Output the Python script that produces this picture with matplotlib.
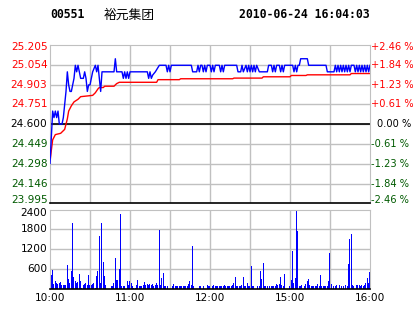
import numpy as np
import matplotlib.pyplot as plt
from matplotlib.transforms import offset_copy

# header
code = "00551"
name = "裕元集团"
stamp = "2010-06-24 16:04:03"

# price axis
prev_close = 24.600
price_ticks = [23.995, 24.146, 24.298, 24.449, 24.600, 24.751, 24.903, 25.054, 25.205]
pct_labels = ["-2.46 %", "-1.84 %", "-1.23 %", "-0.61 %", "0.00 %", "+0.61 %", "+1.23 %", "+1.84 %", "+2.46 %"]

# time axis (minutes of trading from 10:00)
time_ticks = [0, 60, 120, 180, 240]
time_labels = ["10:00", "11:00", "12:00", "15:00", "16:00"]

# price line (minute, price)
price_t = [0, 1, 2, 3, 4, 5, 6, 7, 9, 10, 11, 12, 13, 14, 15, 16, 17, 18, 19, 20,
           21, 22, 23, 25, 26, 27, 28, 29, 30, 31, 32, 34, 35, 36, 37, 38, 39, 48,
           49, 50, 54, 55, 56, 57, 58, 59, 60, 73, 74, 75, 76, 77, 79, 82, 87, 88,
           89, 90, 91, 106, 107, 110, 111, 112, 113, 114, 115, 116, 117, 118, 120,
           121, 122, 123, 124, 127, 128, 129, 130, 131, 140, 141, 143, 144, 145, 147,
           148, 149, 150, 151, 152, 153, 154, 155, 157, 163, 164, 166, 167, 168, 169,
           170, 172, 173, 174, 175, 176, 182, 183, 184, 185, 186, 187, 188, 193, 194,
           207, 208, 213, 214, 215, 216, 217, 218, 219, 220, 221, 222, 223, 224, 225,
           226, 228, 229, 230, 231, 232, 233, 234, 235, 236, 237, 238, 239, 240]
price_v = [24.30, 24.50, 24.70, 24.65, 24.70, 24.65, 24.70, 24.60, 24.60, 24.65, 24.75,
           24.85, 25.00, 24.90, 24.85, 24.85, 24.90, 24.95, 25.05, 25.00, 25.05, 25.00,
           24.95, 24.95, 25.00, 24.95, 24.85, 24.90, 24.90, 24.95, 25.00, 25.05, 25.00,
           25.05, 24.95, 24.85, 25.00, 25.00, 25.10, 25.00, 25.00, 24.95, 25.00, 24.95,
           25.00, 24.95, 25.00, 25.00, 24.95, 25.00, 24.95, 24.975, 25.00, 25.05, 25.05,
           25.00, 25.05, 25.00, 25.05, 25.05, 25.00, 25.00, 25.05, 25.00, 25.05, 25.05,
           25.00, 25.05, 25.00, 25.05, 25.05, 25.00, 25.05, 25.00, 25.05, 25.05, 25.00,
           25.05, 25.00, 25.05, 25.05, 25.00, 25.00, 25.05, 25.00, 25.05, 25.00, 25.05,
           25.00, 25.05, 25.00, 25.05, 25.00, 25.05, 25.00, 25.00, 25.05, 25.05, 25.00,
           25.05, 25.00, 25.05, 25.05, 25.00, 25.05, 25.00, 25.05, 25.05, 25.00, 25.05,
           25.00, 25.05, 25.05, 25.10, 25.10, 25.05, 25.05, 25.00, 25.00, 25.05, 25.00,
           25.05, 25.00, 25.05, 25.00, 25.05, 25.00, 25.05, 25.00, 25.05, 25.00, 25.05,
           25.05, 25.00, 25.05, 25.00, 25.05, 25.00, 25.05, 25.00, 25.05, 25.00, 25.05,
           25.00, 25.05]

# average price line (minute, price)
avg_t = [0, 1, 2, 4, 8, 11, 12, 13, 14, 16, 18, 21, 23, 32, 34, 36, 37, 40, 41, 48, 50,
         52, 80, 81, 97, 98, 137, 138, 159, 160, 180, 181, 192, 193, 225, 226, 240]
avg_v = [24.31, 24.40, 24.48, 24.52, 24.53, 24.56, 24.60, 24.64, 24.70, 24.74, 24.77,
         24.79, 24.81, 24.82, 24.84, 24.87, 24.88, 24.88, 24.89, 24.89, 24.91, 24.92,
         24.92, 24.94, 24.94, 24.947, 24.947, 24.952, 24.952, 24.962, 24.962, 24.972,
         24.972, 24.977, 24.977, 24.987, 24.987]

# volume per minute, 10:00 .. 16:00
volume = [400, 400, 560, 130, 220, 170, 150, 180, 200, 100, 120, 120, 100, 710, 280, 180,
          530, 2000, 350, 220, 160, 200, 440, 220, 20, 100, 130, 160, 100, 400, 120, 100,
          130, 160, 20, 380, 530, 1600, 160, 2000, 800, 380, 100, 0, 0, 0, 70, 70, 160,
          940, 250, 250, 590, 2270, 70, 70, 70, 0, 220, 120, 220, 160, 70, 20, 20, 100,
          250, 70, 70, 70, 100, 190, 100, 130, 100, 130, 100, 130, 70, 100, 160, 100,
          1780, 100, 320, 470, 70, 70, 70, 0, 0, 0, 70, 130, 70, 70, 70, 70, 70, 70, 70,
          70, 70, 70, 130, 220, 100, 1290, 70, 0, 0, 0, 70, 70, 0, 70, 0, 0, 100, 70,
          70, 0, 70, 100, 70, 70, 70, 70, 70, 70, 70, 100, 70, 70, 70, 70, 70, 100, 160,
          350, 70, 70, 70, 70, 100, 350, 70, 70, 160, 70, 70, 680, 70, 70, 0, 0, 70, 70,
          530, 280, 770, 70, 70, 70, 0, 70, 70, 70, 70, 70, 130, 100, 130, 350, 100, 70,
          440, 0, 0, 0, 70, 250, 1140, 160, 320, 2340, 1750, 70, 70, 100, 0, 70, 130,
          220, 280, 100, 70, 70, 70, 70, 70, 130, 70, 400, 70, 70, 70, 70, 70, 220, 1080,
          130, 0, 70, 70, 100, 0, 100, 0, 70, 70, 0, 100, 70, 740, 1500, 1660, 100, 70,
          0, 100, 100, 100, 70, 100, 70, 100, 160, 320, 160, 500]
vol_ticks = [600, 1200, 1800, 2400]

grid_c = "#c0c0c0"
red = "#ff0000"
green = "#005a00"
fs = 7.6

fig = plt.figure(figsize=(4.14, 3.14), dpi=100)
fig.patch.set_facecolor("white")

fig.text(50/414, 1-15/314, code, fontsize=8.3, fontweight="bold", family="DejaVu Sans Mono", va="center")
fig.text(104/414, 1-15/314, name, fontsize=9.2, family=["Noto Sans CJK SC", "DejaVu Sans"], va="center")
fig.text(370/414, 1-15/314, stamp, fontsize=8.3, fontweight="bold", family="DejaVu Sans Mono", va="center", ha="right")

def lab_color(p):
    if p > prev_close:
        return red
    if p == prev_close:
        return "black"
    return green

# price panel
ax = fig.add_axes([50/414, 1-203.3/314, 320/414, (203.3-45)/314])
ax.set_xlim(0, 240)
ax.set_ylim(price_ticks[0], price_ticks[-1])
for t in range(30, 240, 30):
    ax.axvline(t, color=grid_c, lw=1, zorder=0)
for p in price_ticks[1:-1]:
    ax.axhline(p, color=grid_c, lw=1, zorder=0)
ax.axhline(prev_close, color="black", lw=1.2, zorder=1)
ax.plot(avg_t, avg_v, color=red, lw=1, zorder=2)
ax.plot(price_t, price_v, color="#0000ff", lw=1, zorder=3)
for s in ["top", "left", "right"]:
    ax.spines[s].set_color(grid_c)
ax.spines["bottom"].set_color("black")
ax.spines["bottom"].set_linewidth(1.2)
ax.set_xticks([])
ax.set_yticks([])

# y labels drawn as text so the end ones can sit inside the panel
trans_l = ax.get_yaxis_transform()
for i, (p, pl) in enumerate(zip(price_ticks, pct_labels)):
    dy = 0
    if i == 0:
        dy = 2.4
    elif i == len(price_ticks) - 1:
        dy = -1.2
    dx = 4.5 if p == prev_close else 0
    c = lab_color(p)
    ax.text(-0.008, p, f"{p:.3f}", fontsize=fs, color=c, ha="right", va="center",
            transform=offset_copy(trans_l, fig=fig, y=dy, units="points"))
    ax.text(1.002, p, pl, fontsize=7.1, color=c, ha="left", va="center",
            transform=offset_copy(trans_l, fig=fig, x=dx, y=dy, units="points"))

# volume panel
bx = fig.add_axes([50/414, 1-288.5/314, 320/414, (288.5-209.5)/314])
bx.set_xlim(0, 240)
bx.set_ylim(0, 2400)
for t in range(30, 240, 30):
    bx.axvline(t, color=grid_c, lw=1, zorder=0)
for v in vol_ticks[:-1]:
    bx.axhline(v, color=grid_c, lw=1, zorder=0)
bx.bar(np.arange(len(volume)), volume, width=0.75, color="#0000ff", zorder=2)
for s in ["top", "left", "right"]:
    bx.spines[s].set_color(grid_c)
bx.spines["bottom"].set_color("black")
bx.spines["bottom"].set_linewidth(1.2)
bx.set_yticks([])
trans_b = bx.get_yaxis_transform()
for v in vol_ticks:
    dy = -2.6 if v == vol_ticks[-1] else 0
    bx.text(-0.008, v, str(v), fontsize=fs, ha="right", va="center",
            transform=offset_copy(trans_b, fig=fig, y=dy, units="points"))
bx.set_xticks(time_ticks)
bx.set_xticklabels(time_labels, fontsize=fs)
bx.tick_params(length=0, pad=3)

plt.savefig("out.png", dpi=100)
